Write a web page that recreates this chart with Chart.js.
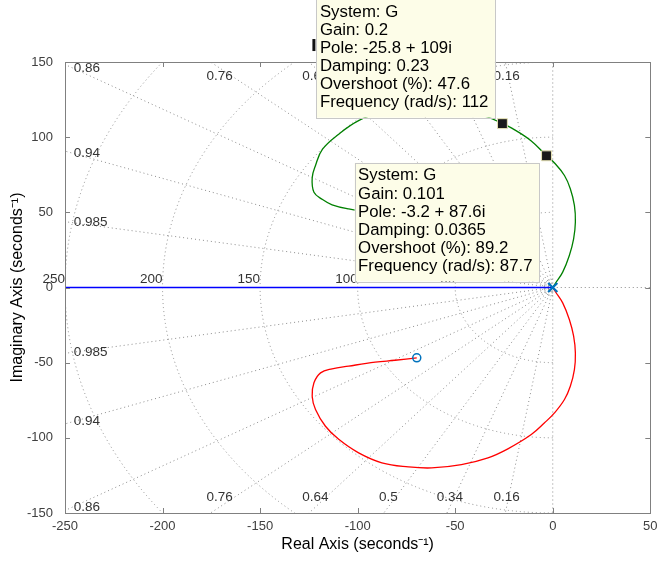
<!DOCTYPE html>
<html>
<head>
<meta charset="utf-8">
<script src="https://cdn.jsdelivr.net/npm/chart.js@4"></script>
<style>
  html, body { margin:0; padding:0; background:#fff; }
  canvas { display:block; }
</style>
</head>
<body>
<canvas id="rl" width="659" height="561"></canvas>
<script>
// axis ticks
const xTickVals = [-250, -200, -150, -100, -50, 0, 50];
const yTickVals = [-150, -100, -50, 0, 50, 100, 150];

// root locus branches (real part, imaginary part)
const blueRe = [0, -260];
const blueIm = [0, 0];

const greenRe = [0, 1.2, 5.1, 8.5, 10.7, 11.6, 11.1, 9, 6, 0.9, -3.2, -11, -21, -25.8,
  -33.2, -46.8, -62.1, -74, -87.6, -99.5, -109.7, -118, -121.6, -123.3, -122.4, -118, -113.1,
  -104.6, -91, -80.8, -69.7];
const greenIm = [0, 2.5, 10.2, 21.3, 32.4, 43.5, 54.6, 65.7, 74.5, 82.8, 87.6, 97.5, 106, 109,
  113.3, 117.8, 120, 119.3, 116.6, 111, 102, 92, 81.2, 73, 63.4, 58.5, 55, 52.3, 49.7, 48.4, 46.8];

const redRe = [0, 1.2, 5.1, 8.5, 10.7, 11.6, 11.1, 9, 6, 0.9, -4.2, -11, -23, -33.2, -46.8,
  -62.1, -74, -87.6, -99.5, -109.7, -116.5, -121.6, -123.3, -122.4, -119, -113.1, -104.6, -91,
  -80.8, -69.7];
const redIm = [0, -2.5, -10.2, -21.3, -32.4, -43.5, -54.6, -65.7, -74.5, -83.4, -90, -97.8, -107.3,
  -113.3, -117.8, -120, -119.3, -116.6, -110, -101, -92.3, -81.2, -72.3, -63.4, -56.8, -54.1,
  -52.3, -49.7, -48.4, -46.8];

const poleRe = [0];
const poleIm = [0];
const zeroRe = [-69.7, -69.7];
const zeroIm = [46.8, -46.8];

// data tips
const tipRe = [-25.8, -3.2];
const tipIm = [109, 87.6];
const tipText = [
  ['System: G', 'Gain: 0.2', 'Pole: -25.8 + 109i', 'Damping: 0.23', 'Overshoot (%): 47.6', 'Frequency (rad/s): 112'],
  ['System: G', 'Gain: 0.101', 'Pole: -3.2 + 87.6i', 'Damping: 0.0365', 'Overshoot (%): 89.2', 'Frequency (rad/s): 87.7']
];

// s-plane grid
const dampVals = [0.16, 0.34, 0.5, 0.64, 0.76, 0.86, 0.94, 0.985];
const dampLbl = ['0.16', '0.34', '0.5', '0.64', '0.76', '0.86', '0.94', '0.985'];
const freqVals = [50, 100, 150, 200, 250];
const smallFreq = [2.2, 3.7, 5.4];

const FONT = "'Liberation Sans', Helvetica, Arial, sans-serif";

function pts(re, im){
  return re.map((v, i) => ({x: v, y: im[i]}));
}

const sgrid = {
  id: 'sgrid',
  beforeDatasetsDraw(chart){
    const {ctx, chartArea: a, scales: {x, y}} = chart;
    const px = v => x.getPixelForValue(v), py = v => y.getPixelForValue(v);
    const R = 1000;
    ctx.save();
    ctx.beginPath();
    ctx.rect(a.left, a.top, a.right - a.left, a.bottom - a.top);
    ctx.clip();
    ctx.strokeStyle = '#8c8c8c';
    ctx.lineWidth = 1;
    ctx.setLineDash([1, 3]);
    // damping rays (imaginary axis and positive real axis too)
    [0, ...dampVals].forEach(z => {
      const s = Math.sqrt(1 - z * z);
      [1, -1].forEach(sg => {
        ctx.beginPath();
        ctx.moveTo(px(0), py(0));
        ctx.lineTo(px(-z * R), py(sg * s * R));
        ctx.stroke();
      });
    });
    ctx.beginPath();
    ctx.moveTo(px(0), py(0));
    ctx.lineTo(px(R), py(0));
    ctx.stroke();
    // natural frequency half circles
    [...smallFreq, ...freqVals].forEach(w => {
      ctx.beginPath();
      ctx.ellipse(px(0), py(0), px(w) - px(0), py(0) - py(w), 0, Math.PI / 2, 3 * Math.PI / 2);
      ctx.stroke();
    });
    ctx.restore();

    // grid labels
    ctx.save();
    ctx.font = '13.5px ' + FONT;
    ctx.fillStyle = '#333';
    const xEdge = x.min + 4, yEdge = y.max - 4;
    dampVals.forEach((z, i) => {
      const slope = Math.sqrt(1 - z * z) / z;
      const yl = -xEdge * slope;
      if (yl <= yEdge) {
        ctx.textAlign = 'left';
        ctx.textBaseline = 'middle';
        ctx.fillText(dampLbl[i], px(xEdge) + 1, py(yl));
        ctx.fillText(dampLbl[i], px(xEdge) + 1, py(-yl));
      } else {
        const xt = -yEdge / slope;
        ctx.textAlign = 'center';
        ctx.textBaseline = 'middle';
        ctx.fillText(dampLbl[i], px(xt), py(yEdge) + 8);
        ctx.fillText(dampLbl[i], px(xt), py(-yEdge) - 9.5);
      }
    });
    ctx.textAlign = 'right';
    ctx.textBaseline = 'middle';
    freqVals.forEach(w => ctx.fillText(String(w), px(-w), py(0) - 8));
    ctx.restore();
  }
};

// box, inward ticks and x tick labels
const frame = {
  id: 'frame',
  afterDatasetsDraw(chart){
    const {ctx, chartArea: a, scales: {x, y}} = chart;
    ctx.save();
    ctx.strokeStyle = '#808080';
    ctx.lineWidth = 1;
    ctx.beginPath();
    xTickVals.forEach(v => {
      const p = Math.round(x.getPixelForValue(v)) + 0.5;
      ctx.moveTo(p, a.bottom); ctx.lineTo(p, a.bottom - 5);
      ctx.moveTo(p, a.top); ctx.lineTo(p, a.top + 5);
    });
    yTickVals.forEach(v => {
      const p = Math.round(y.getPixelForValue(v)) + 0.5;
      ctx.moveTo(a.left, p); ctx.lineTo(a.left + 5, p);
      ctx.moveTo(a.right, p); ctx.lineTo(a.right - 5, p);
    });
    ctx.stroke();
    ctx.strokeRect(Math.round(a.left) + 0.5, Math.round(a.top) + 0.5,
      Math.round(a.right - a.left), Math.round(a.bottom - a.top));
    ctx.font = '13px ' + FONT;
    ctx.fillStyle = '#404040';
    ctx.textAlign = 'center';
    ctx.textBaseline = 'middle';
    xTickVals.forEach(v => ctx.fillText(String(v), x.getPixelForValue(v), a.bottom + 13));
    ctx.restore();
  }
};

const datatips = {
  id: 'datatips',
  afterDraw(chart){
    const {ctx, scales: {x, y}} = chart;
    ctx.save();
    ctx.font = '16.8px ' + FONT;
    tipText.forEach((lines, i) => {
      const mx = x.getPixelForValue(tipRe[i]), my = y.getPixelForValue(tipIm[i]);
      const w = Math.max(...lines.map(t => ctx.measureText(t).width)) + 10;
      const h = lines.length * 18.1 + 10;
      const right = mx - 7.5;
      const top = i === 0 ? my - 6 - h : my + 7;
      const left = right - w;
      if (i === 0) {
        ctx.fillStyle = '#111';
        ctx.fillRect(left - 4, top + 40, 3, 12);
      }
      ctx.fillStyle = '#fdfde8';
      ctx.fillRect(left, top, w, h);
      ctx.strokeStyle = '#c8c8c8';
      ctx.lineWidth = 1;
      ctx.strokeRect(Math.round(left) + 0.5, Math.round(top) + 0.5, Math.round(w), Math.round(h));
      ctx.fillStyle = '#000';
      ctx.textAlign = 'left';
      ctx.textBaseline = 'middle';
      lines.forEach((t, k) => ctx.fillText(t, left + 3.5, top + 13 + k * 18.1));
    });
    ctx.restore();
  }
};

new Chart(document.getElementById('rl'), {
  type: 'scatter',
  data: {
    datasets: [
      { data: pts(tipRe, tipIm), pointStyle: 'rect', pointRadius: 7,
        backgroundColor: '#1a1a1a', borderColor: '#e6e2b4', borderWidth: 1 },
      { data: pts(zeroRe, zeroIm), pointStyle: 'circle', pointRadius: 4,
        backgroundColor: 'rgba(0,0,0,0)', borderColor: '#0072bd', borderWidth: 1.5 },
      { data: pts(poleRe, poleIm), pointStyle: 'crossRot', pointRadius: 6.5,
        borderColor: '#0072bd', borderWidth: 2.2 },
      { data: pts(redRe, redIm), showLine: true, borderColor: '#ff0000', borderWidth: 1.3,
        pointRadius: 0, tension: 0.4 },
      { data: pts(greenRe, greenIm), showLine: true, borderColor: '#008000', borderWidth: 1.3,
        pointRadius: 0, tension: 0.4 },
      { data: pts(blueRe, blueIm), showLine: true, borderColor: '#0000ff', borderWidth: 1.5,
        pointRadius: 0 }
    ]
  },
  options: {
    responsive: false,
    animation: false,
    devicePixelRatio: 1,
    layout: { padding: { top: 62, right: 6, left: 0, bottom: 0 } },
    plugins: { legend: { display: false }, tooltip: { enabled: false } },
    scales: {
      x: {
        type: 'linear', min: -250, max: 50,
        afterBuildTicks: s => { s.ticks = xTickVals.map(v => ({value: v})); },
        afterFit: s => { s.height = 48; },
        grid: { display: false }, border: { display: false },
        ticks: { display: false },
        title: { display: true, text: 'Real Axis (seconds⁻¹)', color: '#000',
          font: { family: FONT, size: 16 }, padding: { top: 0, bottom: 6.4 } }
      },
      y: {
        type: 'linear', min: -150, max: 150,
        afterBuildTicks: s => { s.ticks = yTickVals.map(v => ({value: v})); },
        afterFit: s => { s.width = 65; s.paddingTop = 0; s.paddingBottom = 0; },
        grid: { display: false }, border: { display: false },
        ticks: { color: '#404040', font: { family: FONT, size: 13 }, padding: 4 },
        title: { display: true, text: 'Imaginary Axis (seconds⁻¹)', color: '#000',
          font: { family: FONT, size: 16 }, padding: { top: 8, bottom: 0 } }
      }
    }
  },
  plugins: [sgrid, frame, datatips]
});
</script>
</body>
</html>
